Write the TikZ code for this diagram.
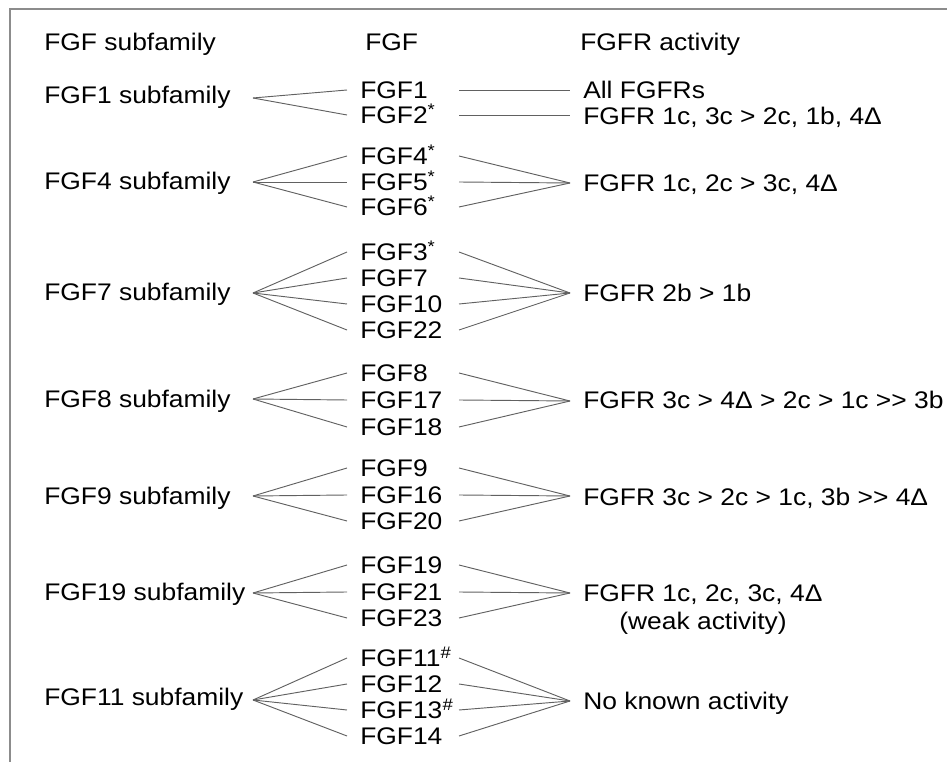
\documentclass[tikz,border=0pt]{standalone}
\usepackage{fontspec}
\setmainfont{Liberation Sans}[FakeStretch=1.1]
\usetikzlibrary{positioning}

\tikzset{
  lbl/.style={anchor=west, inner sep=0pt, text height=12.9pt, text depth=0pt, font=\fontsize{18}{21}\selectfont},
  link/.style={draw=black!62, line width=0.7pt},
  frame/.style={draw=black!45, line width=1.2pt}
}

\begin{document}
\begin{tikzpicture}[x=0.75pt,y=-0.75pt]
\useasboundingbox (0,0) rectangle (947,762);
%frame
\draw[frame] (10,762) -- (10,9) -- (947,9);
%column heads
\node[lbl] (hsub) at (44,42) {FGF subfamily};
\node[lbl] (hfgf) at (365,42) {FGF};
\node[lbl] (hact) at (580,42) {FGFR activity};
%ends of the links at the FGF column
\coordinate (lc) at (347,0);
\coordinate (rc) at (459,0);
\coordinate (ac) at (570,0);

%FGF1 subfamily
\node[lbl] (sub1) at (44,95) {FGF1 subfamily};
\node[lbl] (f1) at (360,90) {FGF1};
\node[lbl] (f2) at (360,115) {FGF2\textsuperscript{*}};
\node[lbl] (act1) at (583,90) {All FGFRs};
\node[lbl] (act2) at (583,116) {FGFR 1c, 3c > 2c, 1b, 4Δ};
\coordinate (v1) at (253,98);
\draw[link] (v1) -- (f1 -| lc);
\draw[link] (v1) -- (f2 -| lc);
\draw[link] (f1 -| rc) -- (f1 -| ac);
\draw[link] (f2 -| rc) -- (f2 -| ac);

%FGF4 subfamily
\node[lbl] (sub4) at (44,181) {FGF4 subfamily};
\node[lbl] (f4) at (360,156) {FGF4\textsuperscript{*}};
\node[lbl] (f5) at (360,182) {FGF5\textsuperscript{*}};
\node[lbl] (f6) at (360,207) {FGF6\textsuperscript{*}};
\node[lbl] (act4) at (583,183) {FGFR 1c, 2c > 3c, 4Δ};
\coordinate (v4) at (253,182);
\coordinate (w4) at (570,183);
\foreach \f in {f4,f5,f6} {
  \draw[link] (v4) -- (\f -| lc);
  \draw[link] (\f -| rc) -- (w4);
}

%FGF7 subfamily
\node[lbl] (sub7) at (44,292) {FGF7 subfamily};
\node[lbl] (f3) at (360,252) {FGF3\textsuperscript{*}};
\node[lbl] (f7) at (360,278) {FGF7};
\node[lbl] (f10) at (360,304) {FGF10};
\node[lbl] (f22) at (360,330) {FGF22};
\node[lbl] (act7) at (583,293) {FGFR 2b > 1b};
\coordinate (v7) at (253,293);
\coordinate (w7) at (570,293);
\foreach \f in {f3,f7,f10,f22} {
  \draw[link] (v7) -- (\f -| lc);
  \draw[link] (\f -| rc) -- (w7);
}

%FGF8 subfamily
\node[lbl] (sub8) at (44,399) {FGF8 subfamily};
\node[lbl] (f8) at (360,373) {FGF8};
\node[lbl] (f17) at (360,400) {FGF17};
\node[lbl] (f18) at (360,427) {FGF18};
\node[lbl] (act8) at (583,400) {FGFR 3c > 4Δ > 2c > 1c >{}> 3b};
\coordinate (v8) at (253,399);
\coordinate (w8) at (570,401);
\foreach \f in {f8,f17,f18} {
  \draw[link] (v8) -- (\f -| lc);
  \draw[link] (\f -| rc) -- (w8);
}

%FGF9 subfamily
\node[lbl] (sub9) at (44,496) {FGF9 subfamily};
\node[lbl] (f9) at (360,468) {FGF9};
\node[lbl] (f16) at (360,495) {FGF16};
\node[lbl] (f20) at (360,521) {FGF20};
\node[lbl] (act9) at (583,497) {FGFR 3c > 2c > 1c, 3b >{}> 4Δ};
\coordinate (v9) at (253,496);
\coordinate (w9) at (570,496);
\foreach \f in {f9,f16,f20} {
  \draw[link] (v9) -- (\f -| lc);
  \draw[link] (\f -| rc) -- (w9);
}

%FGF19 subfamily
\node[lbl] (sub19) at (44,592) {FGF19 subfamily};
\node[lbl] (f19) at (360,565) {FGF19};
\node[lbl] (f21) at (360,592) {FGF21};
\node[lbl] (f23) at (360,618) {FGF23};
\node[lbl] (act19) at (583,593) {FGFR 1c, 2c, 3c, 4Δ};
\node[lbl, anchor=center] (weak) at (703,621) {(weak activity)};
\coordinate (v19) at (253,593);
\coordinate (w19) at (570,593);
\foreach \f in {f19,f21,f23} {
  \draw[link] (v19) -- (\f -| lc);
  \draw[link] (\f -| rc) -- (w19);
}

%FGF11 subfamily
\node[lbl] (sub11) at (44,697) {FGF11 subfamily};
\node[lbl] (f11) at (360,658) {FGF11\textsuperscript{\textit{\#}}};
\node[lbl] (f12) at (360,684) {FGF12};
\node[lbl] (f13) at (360,710) {FGF13\textsuperscript{\textit{\#}}};
\node[lbl] (f14) at (360,736) {FGF14};
\node[lbl] (act11) at (583,701) {No known activity};
\coordinate (v11) at (253,700);
\coordinate (w11) at (570,701);
\foreach \f in {f11,f12,f13,f14} {
  \draw[link] (v11) -- (\f -| lc);
  \draw[link] (\f -| rc) -- (w11);
}
\end{tikzpicture}
\end{document}
